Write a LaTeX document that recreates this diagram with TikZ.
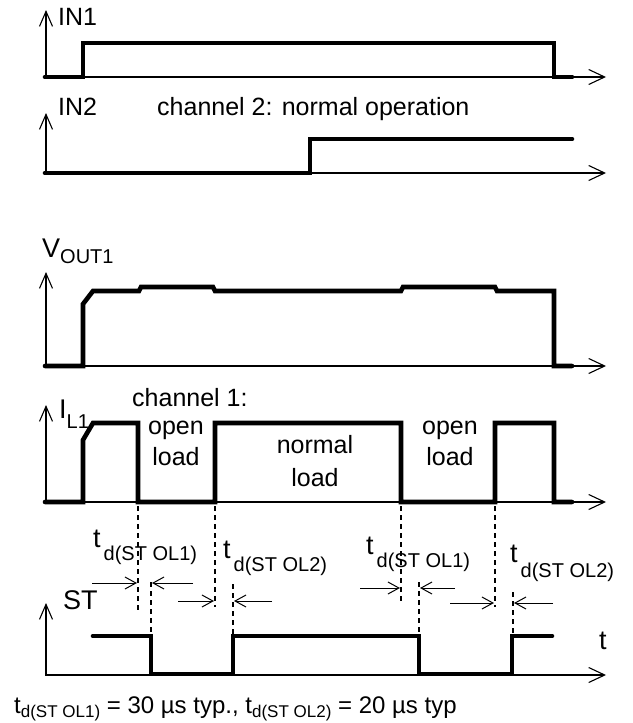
\documentclass[tikz,border=0pt]{standalone}
\usepackage{fontspec}
\setmainfont{Liberation Sans}
\usetikzlibrary{arrows.meta}
\newcommand{\subtx}[2]{\raisebox{#1}{\fontsize{20}{23}\selectfont #2}}
\begin{document}
\begin{tikzpicture}[x=1pt,y=-1pt,
  axes/.style={line width=1.1pt, {Straight Barb[length=15pt,width=13pt,line width=1.1pt]}-{Straight Barb[length=16pt,width=15pt,line width=1.1pt]}},
  sig/.style={line width=4.6pt, line cap=round, line join=miter},
  dots/.style={line width=2.6pt, dash pattern=on 4.5pt off 4.5pt},
  dim/.style={line width=1pt, -{Straight Barb[length=11pt,width=12pt,line width=1pt]}},
  lbl/.style={inner sep=0pt, anchor=base west, font=\fontsize{25}{29}\selectfont},
  big/.style={inner sep=0pt, anchor=base west, font=\fontsize{27}{31}\selectfont},
  ctr/.style={inner sep=0pt, anchor=base, font=\fontsize{25}{29}\selectfont},
]
\useasboundingbox (0,0) rectangle (632,723);

% ---------- IN1
\draw[axes] (46,10) |- (606,77);
\draw[sig] (45,77) -- (83,77) -- (83,43) -- (554,43) -- (554,77) -- (572,77);
\node[lbl] (in1) at (58,25) {IN1};

% ---------- IN2
\draw[axes] (46,113) |- (606,173);
\draw[sig] (45,173) -- (310,173) -- (310,139) -- (572,139);
\node[lbl] (in2) at (58,115) {IN2};
\node[lbl] (ch2) at (157,115) {channel 2: normal operation};

% ---------- VOUT1
\draw[axes] (46,272) |- (606,366);
\draw[sig] (45,366) -- (83,366) -- (83,304) -- (93,291) -- (139,291) -- (141,287)
  -- (213,287) -- (215,291) -- (401,291) -- (403,287) -- (495,287) -- (497,291)
  -- (554,291) -- (554,366) -- (572,366);
\node[big] (vout) at (42,257) {V\subtx{-6pt}{OUT1}};

% ---------- IL1
\draw[axes] (46,405) |- (606,502);
\draw[sig] (45,502) -- (83,502) -- (83,440) -- (93,423) -- (138,423) -- (138,502)
  -- (215,502) -- (215,423) -- (401,423) -- (401,502) -- (495,502) -- (495,423)
  -- (554,423) -- (554,502) -- (572,502);
\node[big] (il) at (59,418) {I\subtx{-10pt}{L1}};
\node[lbl] (ch1) at (132,406) {channel 1:};
\node[ctr] (open1) at (176,434) {open};
\node[ctr] (load1) at (176,465) {load};
\node[ctr] (norm) at (315,453) {normal};
\node[ctr] (load2) at (315,486) {load};
\node[ctr] (open2) at (450,434) {open};
\node[ctr] (load3) at (450,465) {load};

% ---------- ST
\draw[axes] (46,603) |- (606,675);
\draw[sig] (93,636) -- (151,636) -- (151,674) -- (233,674) -- (233,636) -- (419,636)
  -- (419,674) -- (512,674) -- (512,636) -- (552,636);
\node[big] (st) at (63,609) {ST};
\node[big] (t) at (599,649) {t};

% ---------- dotted markers
\coordinate (a1) at (138,506); \coordinate (b1) at (138,610);
\coordinate (a2) at (151,582); \coordinate (b2) at (151,634);
\coordinate (a3) at (215,506); \coordinate (b3) at (215,607);
\coordinate (a4) at (233,584); \coordinate (b4) at (233,634);
\coordinate (a5) at (401,506); \coordinate (b5) at (401,602);
\coordinate (a6) at (419,582); \coordinate (b6) at (419,634);
\coordinate (a7) at (495,506); \coordinate (b7) at (495,607);
\coordinate (a8) at (513,592); \coordinate (b8) at (513,634);
\foreach \i in {1,...,8} \draw[dots] (a\i) -- (b\i);

% ---------- delay arrows
\coordinate (p1) at (92,583);  \coordinate (q1) at (137,583);
\coordinate (p2) at (193,583); \coordinate (q2) at (152,583);
\coordinate (p3) at (178,601); \coordinate (q3) at (214,601);
\coordinate (p4) at (272,601); \coordinate (q4) at (234,601);
\coordinate (p5) at (360,588); \coordinate (q5) at (400,588);
\coordinate (p6) at (455,588); \coordinate (q6) at (420,588);
\coordinate (p7) at (450,603); \coordinate (q7) at (494,603);
\coordinate (p8) at (553,603); \coordinate (q8) at (514,603);
\foreach \i in {1,...,8} \draw[dim] (p\i) -- (q\i);

% ---------- delay labels
\node[big] (td1) at (93,547) {t\hspace{3pt}\subtx{-13pt}{d(ST OL1)}};
\node[big] (td2) at (223,558) {t\hspace{3pt}\subtx{-13pt}{d(ST OL2)}};
\node[big] (td3) at (366,554) {t\hspace{3pt}\subtx{-13pt}{d(ST OL1)}};
\node[big] (td4) at (510,562) {t\hspace{3pt}\subtx{-15pt}{d(ST OL2)}};

% ---------- footnote
\node[inner sep=0pt, anchor=base west, font=\fontsize{24}{28}\selectfont] (note) at (14,713)
  {t\raisebox{-4pt}{\fontsize{17}{19}\selectfont d(ST OL1)} = 30 µs typ., t\raisebox{-4pt}{\fontsize{17}{19}\selectfont d(ST OL2)} = 20 µs typ};
\end{tikzpicture}
\end{document}
